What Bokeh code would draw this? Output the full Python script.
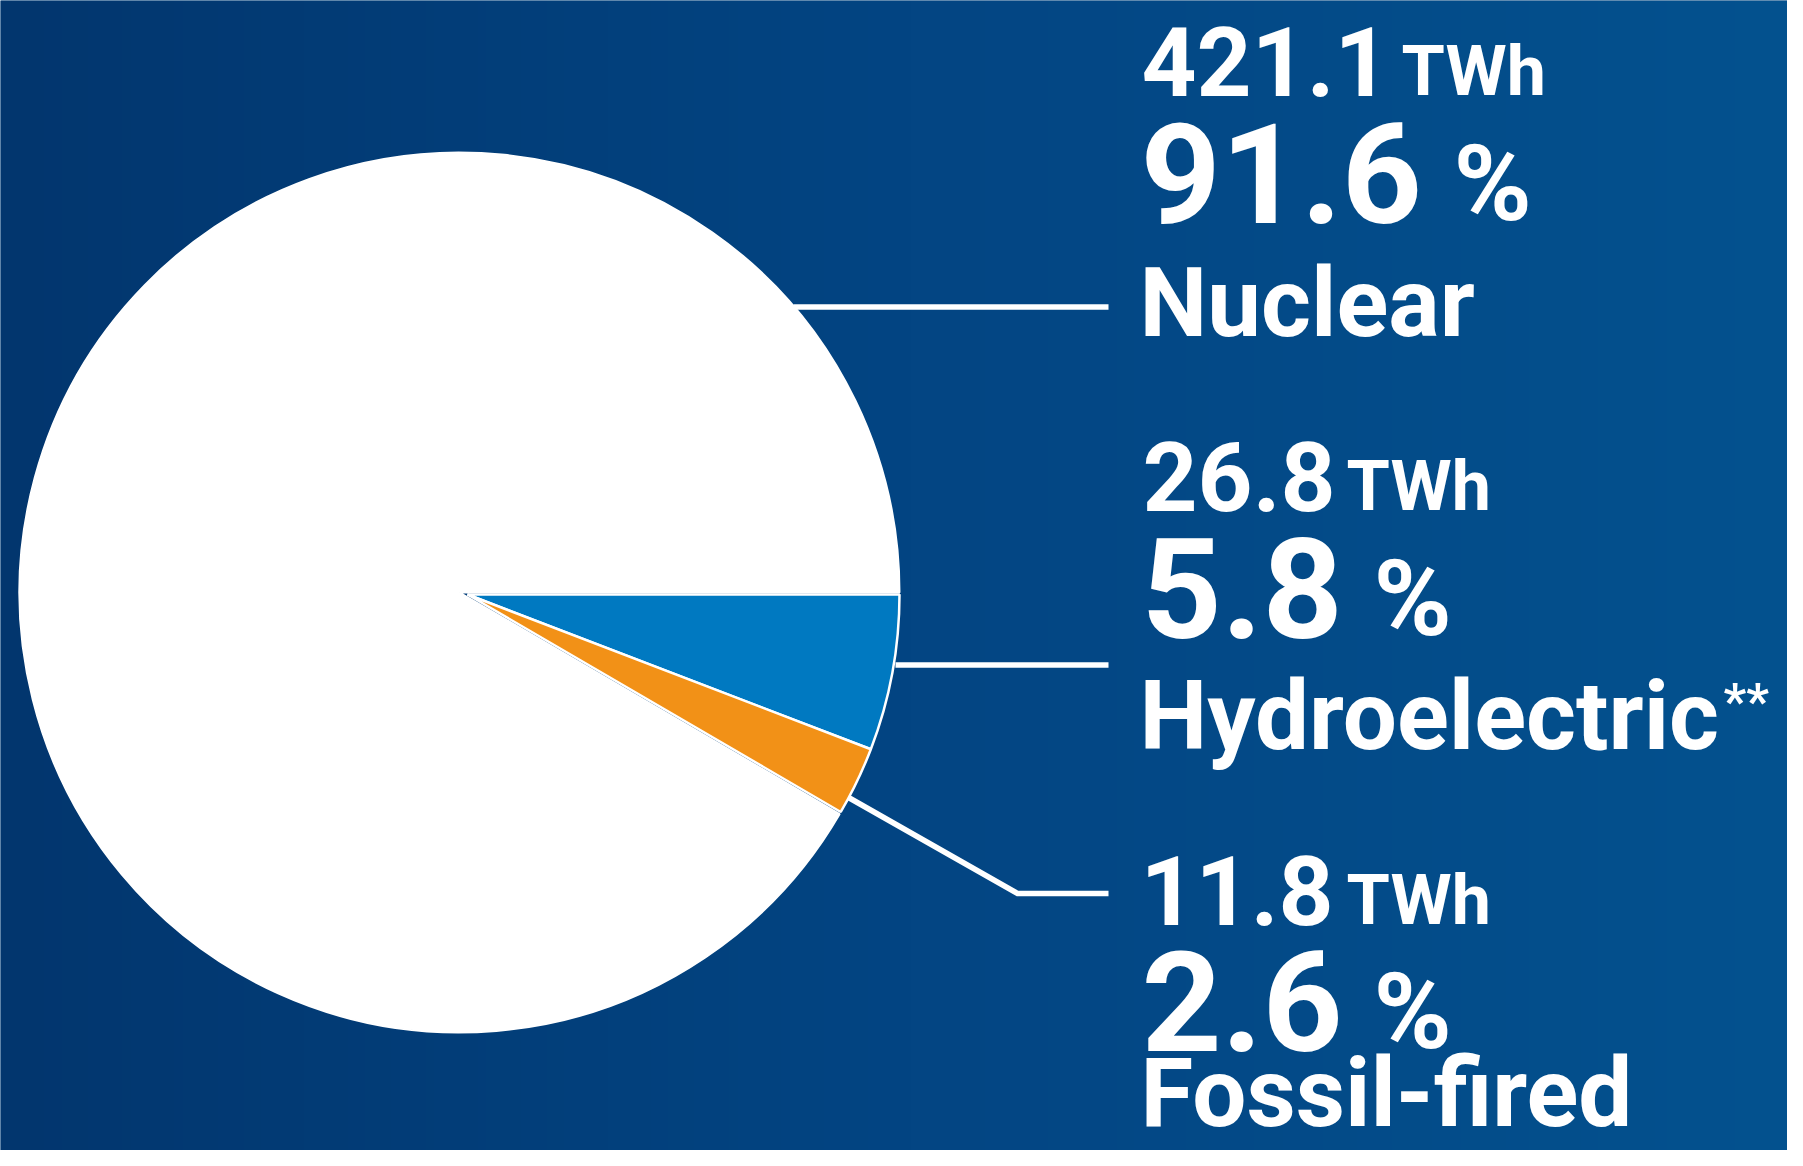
import numpy as np
from math import pi
from bokeh.plotting import figure
from bokeh.models import Range1d
from bokeh.core.properties import value
from bokeh.embed import file_html
from bokeh.resources import INLINE

# ---------------- data ----------------
categories = ["Nuclear", "Hydroelectric", "Fossil-fired"]
twh = [421.1, 26.8, 11.8]
pct = [91.6, 5.8, 2.6]
name_suffix = ["", "**", ""]
unit = "TWh"
slice_colors = ["#ffffff", "#0079c1", "#f29117"]
draw_order = [1, 2, 0]          # clockwise from 3 o'clock: hydro, fossil, nuclear

# ---------------- layout (reference pixel space) ----------------
W, H = 1787, 1150
FONT = value("Roboto")
K = 0.34   # baseline correction (fraction of font size)


def Y(y_ref):
    return 1166 - y_ref


def YT(y_ref, size):
    return 1166 - y_ref + K * size


p = figure(width=W, height=H, x_range=Range1d(0, W), y_range=Range1d(1166 - H, 1166),
           output_backend="svg", toolbar_location=None, min_border=0,
           x_axis_location=None, y_axis_location=None)
p.grid.visible = False
p.outline_line_color = None
p.background_fill_color = "#02447f"
p.border_fill_color = "#02447f"

# background horizontal gradient
xs = np.arange(0, W) + 0.5
img = np.empty((1, W), dtype=np.uint32)
view = img.view(dtype=np.uint8).reshape((1, W, 4))
view[0, :, 0] = np.interp(xs, [0, 910, 1803], [2, 3, 3]).astype(np.uint8)
view[0, :, 1] = np.interp(xs, [0, 910, 1803], [54, 69, 82]).astype(np.uint8)
view[0, :, 2] = np.interp(xs, [0, 910, 1803], [110, 131, 143]).astype(np.uint8)
view[0, :, 3] = 255
p.image_rgba(image=[img], x=0, y=1166 - H, dw=W, dh=H)

# ---------------- pie ----------------
total = sum(twh)
starts, ends = {}, {}
cum = 0.0
for i in draw_order:
    f = twh[i] / total
    starts[i] = (-(cum + f) * 2 * pi) % (2 * pi)
    ends[i] = -cum * 2 * pi
    cum += f

big_center = (459, Y(592))
big_r = 440
small_center = (467, Y(594))
small_r = 432

main = [0]
others = [1, 2]
p.wedge(x=[big_center[0]] * len(main), y=[big_center[1]] * len(main), radius=big_r,
        start_angle=[starts[i] for i in main], end_angle=[ends[i] for i in main],
        fill_color=[slice_colors[i] for i in main], line_color="white", line_width=2)
p.wedge(x=[small_center[0]] * len(others), y=[small_center[1]] * len(others), radius=small_r,
        start_angle=[starts[i] for i in others], end_angle=[ends[i] for i in others],
        fill_color=[slice_colors[i] for i in others], line_color="white", line_width=2.5)

# ---------------- leader lines ----------------
leader_x = [[793, 1108], [895, 1108], [848, 1017, 1108]]
leader_y = [[306.5, 306.5], [664.5, 664.5], [797, 893, 893]]
p.multi_line(xs=leader_x, ys=[[Y(v) for v in ys] for ys in leader_y],
             line_color="white", line_width=5.5, line_cap="butt", line_join="miter")

# ---------------- labels ----------------
# (avoid sizes like 100px/200px: they confuse the SVG font parser)
S_NUM, S_UNIT, S_PCT, S_PSIGN, S_NAME, S_SUF = 96, 70, 140, 106, 96, 50

num_x = [1141, 1142, 1140]
num_base = [94, 509, 923]
unit_x = [1401, 1346, 1346]
pct_x = [1140, 1141, 1141]
pct_base = [220, 635, 1048]
psign_x = [1453, 1373, 1373]
name_x = [1139, 1139, 1140]
name_base = [335, 748, 1125]
suffix_x = [None, 1723, None]
suffix_base = [None, 718, None]

common = dict(text_font=FONT, text_font_style="bold", text_color="white",
              text_baseline="alphabetic", text_align="left")

p.text(x=num_x, y=[YT(v, S_NUM) for v in num_base], text=[f"{v:.1f}" for v in twh],
       text_font_size=f"{S_NUM}px", **common)
p.text(x=unit_x, y=[YT(v, S_UNIT) for v in num_base], text=[unit] * 3,
       text_font_size=f"{S_UNIT}px", **common)
p.text(x=pct_x, y=[YT(v, S_PCT) for v in pct_base], text=[f"{v:.1f}" for v in pct],
       text_font_size=f"{S_PCT}px", **common)
p.text(x=psign_x, y=[YT(v, S_PSIGN) for v in pct_base], text=["%"] * 3,
       text_font_size=f"{S_PSIGN}px", **common)
p.text(x=name_x, y=[YT(v, S_NAME) for v in name_base], text=categories,
       text_font_size=f"{S_NAME}px", **common)
sx = [suffix_x[i] for i in range(3) if name_suffix[i]]
sy = [YT(suffix_base[i], S_SUF) for i in range(3) if name_suffix[i]]
st = [name_suffix[i] for i in range(3) if name_suffix[i]]
p.text(x=sx, y=sy, text=st, text_font_size=f"{S_SUF}px", **common)

open("out.html", "w").write(file_html(p, INLINE))
